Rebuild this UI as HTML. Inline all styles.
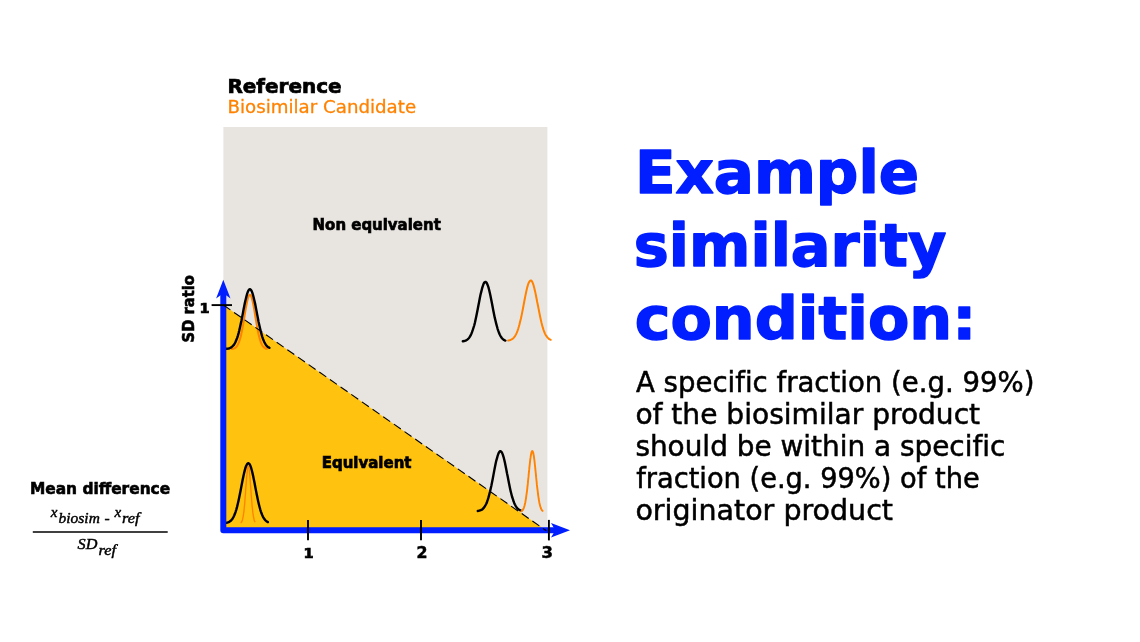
<!DOCTYPE html>
<html lang="en"><head><meta charset="utf-8"><title>Example similarity condition</title>
<style>
html,body{margin:0;padding:0;background:#fff;}
body{width:1140px;height:642px;overflow:hidden;position:relative;}
svg{position:absolute;left:0;top:0;display:block;}
text{font-family:'DejaVu Sans','Liberation Sans',sans-serif;}
.b{font-weight:bold;}
.f{font-family:'Liberation Serif','DejaVu Serif',serif;font-style:italic;font-weight:normal;font-size:15.5px;}
</style></head><body>
<svg width="1140" height="642" viewBox="0 0 1140 642">
<rect x="223.4" y="127" width="324" height="403.5" fill="#e8e5e1"/>
<polygon points="223.4,305 223.4,530.3 545.8,530.3" fill="#ffc20e"/>
<path d="M231.9,349.0 L232.5,348.9 L233.1,348.8 L233.7,348.6 L234.2,348.4 L234.8,348.1 L235.4,347.7 L236.0,347.2 L236.6,346.6 L237.2,345.9 L237.7,344.9 L238.3,343.7 L238.9,342.4 L239.5,340.7 L240.1,338.8 L240.7,336.7 L241.2,334.2 L241.8,331.5 L242.4,328.5 L243.0,325.2 L243.6,321.9 L244.2,318.3 L244.7,314.8 L245.3,311.3 L245.9,307.9 L246.5,304.7 L247.1,301.8 L247.7,299.3 L248.2,297.3 L248.8,295.9 L249.4,295.0 L250.0,294.8 L250.6,295.2 L251.2,296.2 L251.7,297.8 L252.3,300.0 L252.9,302.6 L253.5,305.6 L254.1,308.8 L254.7,312.3 L255.2,315.8 L255.8,319.4 L256.4,322.8 L257.0,326.2 L257.6,329.3 L258.1,332.3 L258.7,334.9 L259.3,337.3 L259.9,339.4 L260.5,341.2 L261.1,342.8 L261.6,344.1 L262.2,345.2 L262.8,346.1 L263.4,346.8 L264.0,347.4 L264.6,347.8 L265.1,348.2 L265.7,348.5 L266.3,348.7 L266.9,348.8" fill="none" stroke="#ff8200" stroke-width="2.0" stroke-linecap="round" stroke-linejoin="round"/>
<path d="M226.4,348.8 L227.1,348.7 L227.8,348.6 L228.6,348.5 L229.3,348.3 L230.0,348.0 L230.7,347.7 L231.4,347.3 L232.1,346.7 L232.8,346.0 L233.6,345.2 L234.3,344.2 L235.0,343.0 L235.7,341.5 L236.4,339.8 L237.2,337.9 L237.9,335.6 L238.6,333.1 L239.3,330.3 L240.0,327.2 L240.7,323.9 L241.5,320.4 L242.2,316.8 L242.9,313.1 L243.6,309.3 L244.3,305.7 L245.0,302.2 L245.8,299.0 L246.5,296.1 L247.2,293.6 L247.9,291.6 L248.6,290.2 L249.3,289.4 L250.1,289.2 L250.8,289.7 L251.5,290.7 L252.2,292.4 L252.9,294.6 L253.6,297.2 L254.3,300.3 L255.1,303.6 L255.8,307.2 L256.5,310.9 L257.2,314.6 L257.9,318.3 L258.6,321.9 L259.4,325.4 L260.1,328.6 L260.8,331.5 L261.5,334.2 L262.2,336.6 L262.9,338.7 L263.7,340.6 L264.4,342.2 L265.1,343.5 L265.8,344.7 L266.5,345.6 L267.2,346.3 L268.0,347.0 L268.7,347.4 L269.4,347.8" fill="none" stroke="#000" stroke-width="2.4" stroke-linecap="round" stroke-linejoin="round"/>
<path d="M462.8,341.3 L463.5,341.2 L464.2,341.0 L464.9,340.8 L465.6,340.6 L466.3,340.2 L467.1,339.8 L467.8,339.2 L468.5,338.5 L469.2,337.7 L469.9,336.6 L470.6,335.4 L471.3,333.9 L472.0,332.2 L472.7,330.2 L473.4,328.0 L474.2,325.5 L474.9,322.7 L475.6,319.6 L476.3,316.3 L477.0,312.8 L477.7,309.2 L478.4,305.5 L479.1,301.9 L479.8,298.2 L480.5,294.8 L481.3,291.6 L482.0,288.7 L482.7,286.3 L483.4,284.3 L484.1,282.9 L484.8,282.1 L485.5,281.9 L486.2,282.3 L486.9,283.3 L487.6,284.9 L488.4,287.1 L489.1,289.7 L489.8,292.7 L490.5,295.9 L491.2,299.5 L491.9,303.1 L492.6,306.8 L493.3,310.5 L494.0,314.0 L494.7,317.4 L495.5,320.7 L496.2,323.6 L496.9,326.3 L497.6,328.8 L498.3,330.9 L499.0,332.8 L499.7,334.5 L500.4,335.8 L501.1,337.0 L501.8,338.0 L502.6,338.8 L503.3,339.4 L504.0,339.9 L504.7,340.3 L505.4,340.6" fill="none" stroke="#000" stroke-width="2.4" stroke-linecap="round" stroke-linejoin="round"/>
<path d="M508.2,340.5 L508.9,340.4 L509.6,340.2 L510.3,340.0 L511.0,339.7 L511.7,339.3 L512.5,338.9 L513.2,338.3 L513.9,337.6 L514.6,336.7 L515.3,335.6 L516.0,334.4 L516.7,332.9 L517.4,331.1 L518.1,329.1 L518.8,326.8 L519.5,324.2 L520.2,321.3 L521.0,318.2 L521.7,314.9 L522.4,311.4 L523.1,307.7 L523.8,304.0 L524.5,300.3 L525.2,296.6 L525.9,293.2 L526.6,290.0 L527.3,287.1 L528.0,284.7 L528.7,282.8 L529.5,281.4 L530.2,280.6 L530.9,280.4 L531.6,280.9 L532.3,281.9 L533.0,283.6 L533.7,285.8 L534.4,288.4 L535.1,291.4 L535.8,294.8 L536.5,298.3 L537.2,302.0 L538.0,305.7 L538.7,309.4 L539.4,313.0 L540.1,316.5 L540.8,319.7 L541.5,322.7 L542.2,325.4 L542.9,327.9 L543.6,330.1 L544.3,332.0 L545.0,333.6 L545.7,335.0 L546.5,336.2 L547.2,337.1 L547.9,337.9 L548.6,338.6 L549.3,339.1 L550.0,339.5 L550.7,339.8" fill="none" stroke="#ff8200" stroke-width="2.0" stroke-linecap="round" stroke-linejoin="round"/>
<path d="M477.8,511.0 L478.5,510.9 L479.2,510.7 L479.9,510.5 L480.7,510.2 L481.4,509.9 L482.1,509.4 L482.8,508.9 L483.5,508.2 L484.2,507.3 L484.9,506.2 L485.6,505.0 L486.4,503.5 L487.1,501.7 L487.8,499.7 L488.5,497.4 L489.2,494.8 L489.9,492.0 L490.6,488.9 L491.4,485.5 L492.1,482.0 L492.8,478.4 L493.5,474.6 L494.2,470.9 L494.9,467.3 L495.6,463.8 L496.3,460.6 L497.1,457.8 L497.8,455.3 L498.5,453.4 L499.2,452.1 L499.9,451.3 L500.6,451.2 L501.3,451.7 L502.1,452.9 L502.8,454.6 L503.5,456.8 L504.2,459.5 L504.9,462.6 L505.6,466.0 L506.3,469.6 L507.0,473.3 L507.8,477.0 L508.5,480.7 L509.2,484.3 L509.9,487.7 L510.6,490.9 L511.3,493.8 L512.0,496.5 L512.8,498.9 L513.5,501.0 L514.2,502.9 L514.9,504.5 L515.6,505.8 L516.3,506.9 L517.0,507.9 L517.7,508.6 L518.5,509.2 L519.2,509.7 L519.9,510.1 L520.6,510.4" fill="none" stroke="#000" stroke-width="2.4" stroke-linecap="round" stroke-linejoin="round"/>
<path d="M521.4,511.3 L521.8,511.1 L522.1,510.8 L522.5,510.4 L522.8,509.9 L523.2,509.3 L523.5,508.6 L523.9,507.8 L524.2,506.7 L524.6,505.5 L524.9,504.0 L525.3,502.4 L525.6,500.5 L526.0,498.3 L526.3,495.9 L526.7,493.2 L527.1,490.3 L527.4,487.2 L527.8,483.9 L528.1,480.4 L528.5,476.9 L528.8,473.3 L529.2,469.7 L529.5,466.3 L529.9,463.0 L530.2,460.0 L530.6,457.4 L530.9,455.1 L531.3,453.3 L531.6,452.0 L532.0,451.2 L532.4,451.0 L532.7,451.4 L533.1,452.3 L533.4,453.8 L533.8,455.7 L534.1,458.1 L534.5,460.9 L534.8,464.0 L535.2,467.3 L535.5,470.8 L535.9,474.4 L536.2,477.9 L536.6,481.5 L536.9,484.9 L537.3,488.1 L537.7,491.2 L538.0,494.0 L538.4,496.6 L538.7,499.0 L539.1,501.1 L539.4,502.9 L539.8,504.5 L540.1,505.9 L540.5,507.0 L540.8,508.0 L541.2,508.9 L541.5,509.5 L541.9,510.1 L542.2,510.5 L542.6,510.9" fill="none" stroke="#ff8200" stroke-width="1.9" stroke-linecap="round" stroke-linejoin="round"/>
<path d="M241.1,522.6 L241.3,522.3 L241.6,522.0 L241.8,521.6 L242.0,521.0 L242.3,520.4 L242.5,519.7 L242.7,518.8 L242.9,517.7 L243.2,516.5 L243.4,515.1 L243.6,513.5 L243.9,511.6 L244.1,509.6 L244.3,507.3 L244.6,504.8 L244.8,502.2 L245.0,499.3 L245.2,496.3 L245.5,493.2 L245.7,490.0 L245.9,486.8 L246.2,483.6 L246.4,480.6 L246.6,477.6 L246.9,474.9 L247.1,472.5 L247.3,470.3 L247.5,468.6 L247.8,467.3 L248.0,466.4 L248.2,466.0 L248.5,466.1 L248.7,466.7 L248.9,467.7 L249.2,469.2 L249.4,471.1 L249.6,473.4 L249.8,475.9 L250.1,478.7 L250.3,481.7 L250.5,484.9 L250.8,488.1 L251.0,491.3 L251.2,494.4 L251.5,497.5 L251.7,500.4 L251.9,503.2 L252.1,505.8 L252.4,508.2 L252.6,510.4 L252.8,512.4 L253.1,514.1 L253.3,515.7 L253.5,517.0 L253.8,518.2 L254.0,519.1 L254.2,520.0 L254.4,520.7 L254.7,521.3 L254.9,521.7" fill="none" stroke="#ff8200" stroke-width="1.3" stroke-linecap="round" stroke-linejoin="round"/>
<path d="M225.8,522.9 L226.5,522.8 L227.2,522.6 L227.9,522.4 L228.6,522.1 L229.3,521.8 L230.0,521.3 L230.7,520.8 L231.4,520.1 L232.1,519.2 L232.8,518.2 L233.5,517.0 L234.2,515.5 L234.9,513.8 L235.6,511.8 L236.3,509.6 L237.0,507.1 L237.7,504.3 L238.4,501.3 L239.1,498.1 L239.8,494.6 L240.5,491.1 L241.2,487.4 L241.9,483.7 L242.6,480.1 L243.3,476.7 L244.0,473.5 L244.7,470.6 L245.4,468.0 L246.1,466.0 L246.9,464.5 L247.6,463.5 L248.3,463.2 L249.0,463.5 L249.7,464.3 L250.4,465.8 L251.1,467.7 L251.8,470.2 L252.5,473.1 L253.2,476.2 L253.9,479.7 L254.6,483.3 L255.3,486.9 L256.0,490.6 L256.7,494.2 L257.4,497.6 L258.1,500.9 L258.8,503.9 L259.5,506.7 L260.2,509.3 L260.9,511.6 L261.6,513.5 L262.3,515.3 L263.0,516.8 L263.7,518.0 L264.4,519.1 L265.1,520.0 L265.8,520.7 L266.5,521.3 L267.2,521.7 L267.9,522.1" fill="none" stroke="#000" stroke-width="2.4" stroke-linecap="round" stroke-linejoin="round"/>
<!-- axes -->
<path d="M223.3,290 L223.3,530.2 L557,530.2" fill="none" stroke="#001eff" stroke-width="6" stroke-linejoin="round"/>
<path d="M223.3,279.7 L230.5,298.5 L223.3,293.3 L216.1,298.5 Z" fill="#001eff"/>
<path d="M570,530.2 L551,537.4 L555.3,530.2 L551,523 Z" fill="#001eff"/>
<line x1="223.4" y1="305" x2="546.4" y2="530.8" stroke="#000" stroke-width="1.1" stroke-dasharray="8.5 4.5"/>
<!-- ticks -->
<g stroke="#000" stroke-width="1.9">
<line x1="211.6" y1="305.1" x2="232" y2="305.1"/>
<line x1="308" y1="520.1" x2="308" y2="540.3"/>
<line x1="421" y1="520.1" x2="421" y2="540.3"/>
<line x1="548.9" y1="519.9" x2="548.9" y2="540.4"/>
</g>
<g class="b" font-size="14.6" text-anchor="middle" stroke="#000" stroke-width="0.7" style="font-family:'Liberation Sans','DejaVu Sans',sans-serif">
<text x="204.5" y="312.5">1</text>
<text x="308.5" y="558">1</text>
</g>
<g class="b" font-size="15" stroke="#000" stroke-width="0.5">
<text x="416.4" y="557.8" textLength="11" lengthAdjust="spacingAndGlyphs">2</text>
<text x="541.6" y="557.8" textLength="11.4" lengthAdjust="spacingAndGlyphs">3</text>
</g>
<text class="b" font-size="16" transform="translate(193.8,342.4) rotate(-90)" textLength="67.2" lengthAdjust="spacingAndGlyphs" stroke="#000" stroke-width="0.6">SD ratio</text>
<text class="b" font-size="19" x="227.4" y="92.6" textLength="114.2" lengthAdjust="spacingAndGlyphs" stroke="#000" stroke-width="0.7">Reference</text>
<text font-size="18" x="227.5" y="113.3" fill="#ff8200" stroke="#ff8200" stroke-width="0.3" textLength="188.6" lengthAdjust="spacingAndGlyphs">Biosimilar Candidate</text>
<text class="b" font-size="15.7" x="312.6" y="230" textLength="128.2" lengthAdjust="spacingAndGlyphs" stroke="#000" stroke-width="0.7">Non equivalent</text>
<text class="b" font-size="15.7" x="321.7" y="467.9" textLength="89.8" lengthAdjust="spacingAndGlyphs" stroke="#000" stroke-width="0.7">Equivalent</text>
<text class="b" font-size="15.5" x="29.9" y="493.8" textLength="140.3" lengthAdjust="spacingAndGlyphs" stroke="#000" stroke-width="0.6">Mean difference</text>
<!-- formula -->
<g stroke="#000" stroke-width="0.45">
<text class="f" x="50.7" y="517.2" textLength="6.7" lengthAdjust="spacingAndGlyphs">x</text>
<text class="f" x="58.6" y="523.2" textLength="41.2" lengthAdjust="spacingAndGlyphs">biosim</text>
<text class="f" x="104.6" y="523.4">-</text>
<text class="f" x="114.6" y="516.6" textLength="6.7" lengthAdjust="spacingAndGlyphs">x</text>
<text class="f" x="122" y="523.4" textLength="17.6" lengthAdjust="spacingAndGlyphs">ref</text>
<text class="f" x="77.6" y="548.8" textLength="19.8" lengthAdjust="spacingAndGlyphs">SD</text>
<text class="f" x="98.4" y="555.4" textLength="17.6" lengthAdjust="spacingAndGlyphs">ref</text>
</g>
<line x1="32.8" y1="531.9" x2="167.7" y2="531.9" stroke="#000" stroke-width="1.5"/>
<!-- title -->
<g class="b" font-size="59.5" fill="#001eff" stroke="#001eff" stroke-width="1.5" stroke-linejoin="round">
<text x="634.9" y="192.9" textLength="284.2" lengthAdjust="spacingAndGlyphs">Example</text>
<text x="633.8" y="266.1" textLength="312.6" lengthAdjust="spacingAndGlyphs">similarity</text>
<text x="634.7" y="338.7" textLength="341.7" lengthAdjust="spacingAndGlyphs">condition:</text>
</g>
<g font-size="27.5" fill="#000" stroke="#000" stroke-width="0.5" style="font-variant-ligatures:none">
<text x="636" y="392.1" textLength="398.5" lengthAdjust="spacingAndGlyphs">A specific fraction (e.g. 99%)</text>
<text x="635.4" y="424.1" textLength="344.7" lengthAdjust="spacingAndGlyphs">of the biosimilar product</text>
<text x="635.4" y="456.1" textLength="370" lengthAdjust="spacingAndGlyphs">should be within a specific</text>
<text x="636.2" y="488" textLength="343.5" lengthAdjust="spacingAndGlyphs">fraction (e.g. 99%) of the</text>
<text x="635.4" y="520" textLength="257.6" lengthAdjust="spacingAndGlyphs">originator product</text>
</g>
</svg>
</body></html>
